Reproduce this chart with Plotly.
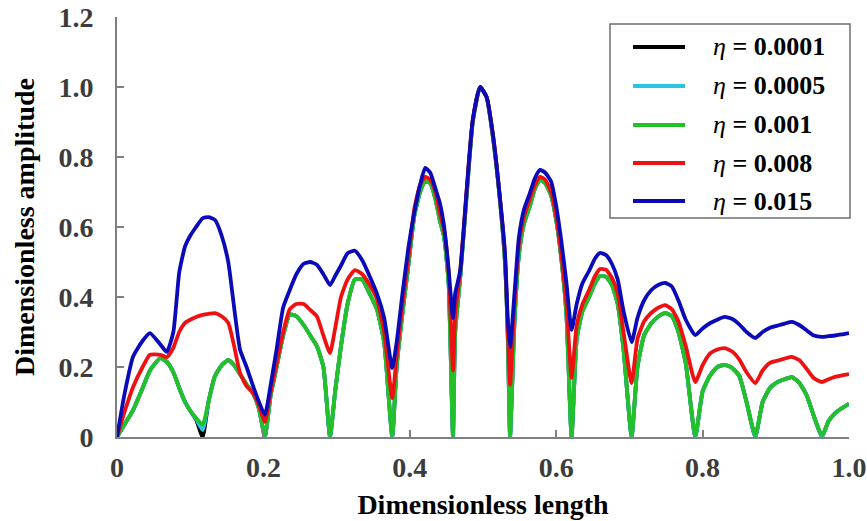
import plotly.graph_objects as go

# ---------------- data ----------------
length = [
    0, .01, .022, .035, .045, .059, .068, .077, .085, .093, .1, .108, .117, .125, .134, .143, .152, .16, .168, .177, .186, .194, .202,
    .21, .218, .227, .236, .245, .255, .264, .273, .282, .291,
    .298, .306, .315, .325, .335, .345, .355, .365, .376,
    .382, .39, .398, .406, .414, .421, .428, .435, .441, .447, .453, .459,
    .462, .469, .478, .486, .496, .505, .514, .523, .53, .534, .537,
    .543, .549, .556, .564, .571, .578, .585, .593, .6, .607, .614, .621,
    .628, .636, .645, .653, .66, .668, .676, .684, .692, .703,
    .711, .72, .73, .74, .749, .758, .767, .777, .79,
    .8, .81, .82, .83, .84, .85, .86, .872,
    .882, .892, .902, .912, .922, .932, .942, .952, .963,
    .972, .981, .99, 1.0,
]

amp_0001 = [
    0, .035, .077, .14, .19, .225, .215, .185, .14, .1, .075, .05, 0, .1, .175, .205, .22, .205, .18, .15, .125, .08, 0,
    .12, .2, .29, .35, .345, .32, .29, .26, .2, 0,
    .13, .26, .38, .45, .45, .41, .365, .27, 0,
    .2, .354, .49, .63, .7, .73, .725, .68, .62, .57, .44, 0,
    .3, .46, .7, .9, 1.0, .97, .85, .68, .5, .28, 0,
    .33, .52, .61, .66, .71, .735, .725, .69, .62, .51, .35, 0,
    .28, .36, .4, .44, .46, .458, .435, .38, .25, 0,
    .2, .29, .325, .345, .354, .345, .3, .21, 0,
    .13, .175, .2, .206, .198, .175, .1, 0,
    .1, .14, .157, .165, .171, .155, .12, .06, 0,
    .045, .068, .082, .095,
]

amp_0005 = [
    0, .035, .077, .14, .19, .225, .215, .185, .14, .1, .075, .052, .02, .1, .175, .205, .22, .205, .18, .15, .125, .08, 0,
    .12, .2, .29, .35, .345, .32, .29, .26, .2, 0,
    .13, .26, .38, .45, .45, .41, .365, .27, 0,
    .2, .354, .49, .63, .7, .73, .725, .68, .62, .57, .44, 0,
    .3, .46, .7, .9, 1.0, .97, .85, .68, .5, .28, 0,
    .33, .52, .61, .66, .71, .735, .725, .69, .62, .51, .35, 0,
    .28, .36, .4, .44, .46, .458, .435, .38, .25, 0,
    .2, .29, .325, .345, .354, .345, .3, .21, 0,
    .13, .175, .2, .206, .198, .175, .1, 0,
    .1, .14, .157, .165, .171, .155, .12, .06, 0,
    .045, .068, .082, .095,
]

amp_001 = [
    0, .035, .077, .14, .19, .225, .215, .185, .14, .1, .075, .055, .035, .1, .175, .205, .22, .205, .18, .15, .125, .08, .005,
    .12, .2, .29, .35, .345, .32, .29, .26, .2, .005,
    .13, .26, .38, .45, .45, .41, .365, .27, .005,
    .2, .354, .49, .63, .7, .73, .725, .68, .62, .57, .44, .005,
    .3, .46, .7, .9, 1.0, .97, .85, .68, .5, .28, .005,
    .33, .52, .61, .66, .71, .735, .725, .69, .62, .51, .35, .005,
    .28, .36, .4, .44, .46, .458, .435, .38, .25, .005,
    .2, .29, .325, .345, .354, .345, .3, .21, .005,
    .13, .175, .2, .206, .198, .175, .1, .005,
    .1, .14, .157, .165, .171, .155, .12, .06, .005,
    .045, .068, .082, .095,
]

amp_008 = [
    0, .07, .143, .2, .235, .235, .228, .255, .3, .326, .335, .343, .349, .352, .354, .345, .326, .26, .183, .145, .125, .09, .043,
    .13, .21, .3, .365, .38, .38, .363, .345, .29, .24,
    .31, .4, .45, .477, .465, .435, .395, .3, .111,
    .23, .38, .51, .65, .72, .743, .735, .7, .64, .59, .47, .19,
    .35, .477, .714, .906, 1.0, .971, .857, .686, .52, .3, .149,
    .38, .55, .63, .68, .72, .743, .735, .7, .63, .52, .38, .169,
    .32, .38, .42, .46, .48, .478, .455, .41, .3, .154,
    .28, .33, .355, .37, .377, .365, .33, .26, .157,
    .205, .238, .25, .254, .245, .222, .185, .154,
    .19, .212, .218, .224, .229, .22, .195, .168, .157,
    .165, .172, .176, .18,
]

amp_015 = [
    0, .12, .23, .275, .297, .265, .243, .3, .47, .545, .575, .6, .625, .628, .62, .575, .5, .37, .25, .2, .145, .1, .063,
    .15, .25, .37, .42, .465, .495, .5, .492, .465, .434,
    .46, .49, .525, .532, .505, .46, .41, .34, .197,
    .27, .41, .54, .64, .72, .769, .755, .71, .669, .6, .48, .34,
    .41, .477, .714, .906, 1.0, .971, .857, .686, .526, .33, .257,
    .41, .57, .65, .697, .74, .763, .755, .73, .66, .56, .44, .306,
    .38, .44, .475, .51, .526, .52, .495, .45, .36, .271,
    .34, .39, .42, .435, .44, .43, .39, .335, .291,
    .31, .325, .335, .343, .338, .322, .3, .283,
    .3, .312, .318, .324, .329, .32, .305, .29, .286,
    .288, .29, .293, .297,
]

series_names = ["0.0001", "0.0005", "0.001", "0.008", "0.015"]
series_values = [amp_0001, amp_0005, amp_001, amp_008, amp_015]
colors = ["#000000", "#2bc3e6", "#22c12a", "#ee1111", "#0a0ab8"]

x_tick_vals = [0, 0.2, 0.4, 0.6, 0.8, 1.0]
x_tick_text = ["0", "0.2", "0.4", "0.6", "0.8", "1.0"]
y_tick_vals = [0, 0.2, 0.4, 0.6, 0.8, 1.0, 1.2]
y_tick_text = ["0", "0.2", "0.4", "0.6", "0.8", "1.0", "1.2"]


def bold(s):
    return "<b>" + s + "</b>"


# ---------------- figure ----------------
FONT = "Liberation Serif"
fig = go.Figure()
for name, vals, col in zip(series_names, series_values, colors):
    fig.add_trace(go.Scatter(
        x=length, y=vals, mode="lines", name="η = " + name,
        line=dict(color=col, width=3.8, shape="spline", smoothing=0.5),
        showlegend=False,
    ))

axis_common = dict(
    showline=True, linecolor="#808080", linewidth=2,
    ticks="inside", ticklen=7, tickwidth=2, tickcolor="#808080",
    showgrid=False, zeroline=False, automargin=False,
    tickfont=dict(family=FONT, size=28, color="#3c3c3c"),
)

fig.update_xaxes(
    range=[0, 1], tickvals=x_tick_vals, ticktext=[bold(t) for t in x_tick_text],
    ticklabelstandoff=4,
    title=dict(text=bold("Dimensionless length"), standoff=13,
               font=dict(family=FONT, size=28, color="#000000")),
    **axis_common,
)
fig.update_yaxes(
    range=[0, 1.2], tickvals=y_tick_vals, ticktext=[bold(t) for t in y_tick_text],
    ticklabelstandoff=16,
    title=dict(text=bold("Dimensionless amplitude"), standoff=16,
               font=dict(family=FONT, size=28, color="#000000")),
    **axis_common,
)

# ---------------- legend (drawn box) ----------------
W, H = 867, 521
ML, MR, MT, MB = 117, 18, 17, 84
PW, PH = W - ML - MR, H - MT - MB


def px_x(p):
    return (p - ML) / PW


def px_y(p):
    return (H - MB - p) / PH


shapes = [dict(type="rect", xref="paper", yref="paper",
               x0=px_x(610), x1=px_x(850), y0=px_y(218), y1=px_y(24),
               line=dict(color="#6e6e6e", width=1.5), fillcolor="white", layer="above")]
annotations = []
row_px = [47, 86, 125, 163, 201]
for name, col, ry in zip(series_names, colors, row_px):
    shapes.append(dict(type="line", xref="paper", yref="paper",
                       x0=px_x(633), x1=px_x(685), y0=px_y(ry), y1=px_y(ry),
                       line=dict(color=col, width=3.8), layer="above"))
    annotations.append(dict(
        xref="paper", yref="paper", x=px_x(711), y=px_y(ry),
        xanchor="left", yanchor="middle", showarrow=False,
        text="<i>η</i> <b>=</b> " + bold(name),
        font=dict(family=FONT, size=26, color="#000000"),
    ))

fig.update_layout(
    width=W, height=H,
    margin=dict(l=ML, r=MR, t=MT, b=MB, autoexpand=False),
    paper_bgcolor="white", plot_bgcolor="white",
    shapes=shapes, annotations=annotations,
)

fig.write_html("out.html")
